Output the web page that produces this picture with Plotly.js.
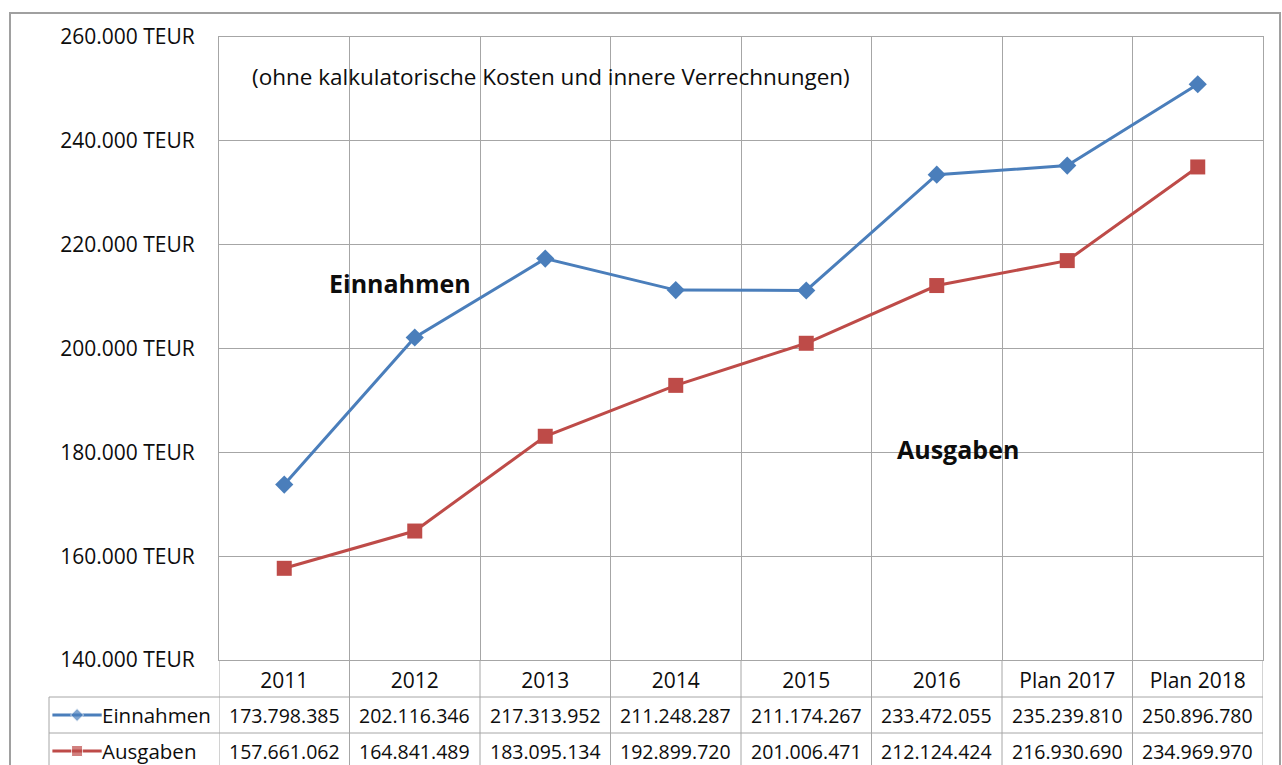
<!DOCTYPE html>
<html><head><meta charset="utf-8">
<script src="https://cdn.plot.ly/plotly-3.0.1.min.js"></script>
<style>html,body{margin:0;padding:0;background:#fff}</style>
</head><body><div id="chart" style="width:1282px;height:765px"></div>
<script>
// ---- data ----
const categories = ['2011', '2012', '2013', '2014', '2015', '2016', 'Plan 2017', 'Plan 2018'];
const einnahmen = [173798385, 202116346, 217313952, 211248287, 211174267, 233472055, 235239810, 250896780];
const ausgaben = [157661062, 164841489, 183095134, 192899720, 201006471, 212124424, 216930690, 234969970];
const seriesNames = ['Einnahmen', 'Ausgaben'];
const noteText = '(ohne kalkulatorische Kosten und innere Verrechnungen)';
const yRange = [140000, 260000];
const yStep = 20000;

// ---- styling / layout helpers ----
const W = 1282, H = 765;
const px = x => x / W;
const py = y => 1 - y / H;
const FONT = 'Open Sans, Noto Sans, sans-serif';
const FS = 19.5;
const TXT = '#0d0d0d';
const GRID = '#a6a6a6';
const BLUE = '#4A7EBB', RED = '#BE4B48';
const seriesValues = [einnahmen, ausgaben];
const seriesStyle = [
  {color: BLUE, symbol: 'diamond', size: 14},
  {color: RED, symbol: 'square', size: 15}
];
const fmt = v => String(v).replace(/\B(?=(\d{3})+(?!\d))/g, '.');

const traces = [];
seriesValues.forEach((vals, i) => {
  const st = seriesStyle[i];
  traces.push({
    type: 'scatter', mode: 'lines+markers', name: seriesNames[i],
    x: categories, y: vals.map(v => v / 1000),
    line: {color: st.color, width: 3},
    marker: {symbol: st.symbol, size: st.size, color: st.color},
    hoverinfo: 'skip', showlegend: false, cliponaxis: false
  });
  // legend key inside the data table
  traces.push({
    type: 'scatter', mode: 'lines+markers', xaxis: 'x2', yaxis: 'y2',
    x: [0.02, 0.165, 0.31], y: [i + 0.5, i + 0.5, i + 0.5],
    line: {color: st.color, width: 3},
    marker: {symbol: st.symbol, size: [0, st.size - 4, 0], color: st.color},
    hoverinfo: 'skip', showlegend: false, cliponaxis: false
  });
});

const shapes = [];
// outer chart border
shapes.push({type: 'rect', xref: 'paper', yref: 'paper', x0: px(10), x1: px(1280), y0: -0.05, y1: py(13),
  line: {color: '#a0a0a0', width: 2}, layer: 'below'});
// table vertical lines (continuation of category boundaries)
for (let i = 0; i <= categories.length; i++) {
  shapes.push({type: 'line', xref: 'x', yref: 'paper', x0: i - 0.5, x1: i - 0.5, y0: 0, y1: py(660),
    line: {color: GRID, width: 1}});
}
// table left border
shapes.push({type: 'line', xref: 'paper', yref: 'paper', x0: px(49), x1: px(49), y0: 0, y1: py(697),
  line: {color: GRID, width: 1}});
// table horizontal lines
[697, 733].forEach(yy => shapes.push({type: 'line', xref: 'paper', yref: 'paper', x0: px(49), x1: px(1263),
  y0: py(yy), y1: py(yy), line: {color: GRID, width: 1}}));

const annotations = [];
seriesValues.forEach((vals, r) => {
  annotations.push({xref: 'x2', yref: 'y2', x: 0.30, y: r + 0.5, xanchor: 'left', yanchor: 'middle',
    text: seriesNames[r], showarrow: false, font: {family: FONT, size: 20.5, color: TXT}});
  vals.forEach((v, c) => annotations.push({xref: 'x', yref: 'y2', x: c, y: r + 0.5,
    xanchor: 'center', yanchor: 'middle', text: fmt(v), showarrow: false,
    font: {family: FONT, size: FS, color: TXT}}));
});
annotations.push({xref: 'paper', yref: 'paper', x: px(250), y: py(77), xanchor: 'left', yanchor: 'middle',
  text: noteText, showarrow: false, font: {family: FONT, size: 22.5, color: TXT}});
annotations.push({xref: 'x', yref: 'y', x: 0.887, y: 212600, xanchor: 'center', yanchor: 'middle',
  text: '<b>' + seriesNames[0] + '</b>', showarrow: false, font: {family: FONT, size: 25, color: TXT}});
annotations.push({xref: 'x', yref: 'y', x: 5.16, y: 180640, xanchor: 'center', yanchor: 'middle',
  text: '<b>' + seriesNames[1] + '</b>', showarrow: false, font: {family: FONT, size: 25, color: TXT}});

const layout = {
  width: W, height: H,
  margin: {l: 0, r: 0, t: 0, b: 0},
  paper_bgcolor: '#fff', plot_bgcolor: '#fff',
  separators: ',.',
  font: {family: FONT, size: FS, color: TXT},
  showlegend: false,
  xaxis: {
    domain: [px(219), px(1263)], type: 'category', range: [-0.5, categories.length - 0.5],
    tickson: 'boundaries', showgrid: true, gridcolor: GRID, gridwidth: 1,
    showline: true, linecolor: GRID, linewidth: 1, mirror: true, ticks: '',
    tickfont: {family: FONT, size: 21, color: TXT}, ticklabelstandoff: 2, zeroline: false, fixedrange: true
  },
  yaxis: {
    domain: [py(660), py(37)], range: yRange, dtick: yStep, tick0: yRange[0],
    tickformat: ',d', ticksuffix: ' TEUR', ticks: '', ticklabelstandoff: 19,
    showgrid: true, gridcolor: GRID, gridwidth: 1, showline: true, linecolor: GRID, mirror: true,
    zeroline: false, tickfont: {family: FONT, size: 21, color: TXT}, fixedrange: true
  },
  xaxis2: {domain: [px(49), px(219)], range: [0, 1], anchor: 'y2', visible: false, fixedrange: true},
  yaxis2: {domain: [0, py(697)], range: [(765 - 697) / 36, 0], anchor: 'x2', visible: false, fixedrange: true},
  shapes: shapes,
  annotations: annotations
};

Plotly.newPlot('chart', traces, layout, {displayModeBar: false, staticPlot: true});
</script>
</body></html>
